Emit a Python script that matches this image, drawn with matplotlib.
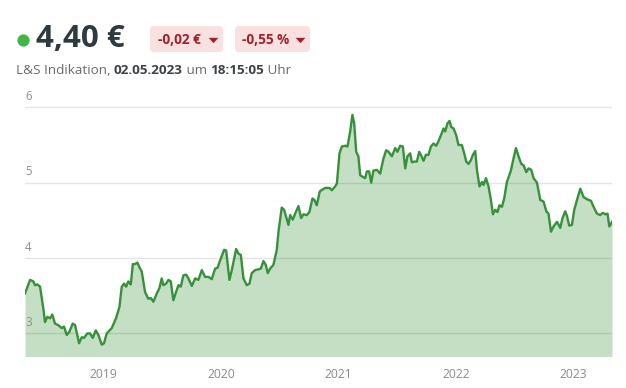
import numpy as np
import matplotlib
matplotlib.use("Agg")
import matplotlib.pyplot as plt
from matplotlib.lines import Line2D
from matplotlib.patches import FancyBboxPatch
from matplotlib.transforms import Affine2D, blended_transform_factory

# price series (decimal year, EUR)
years = [
    2018.334, 2018.377, 2018.405, 2018.419, 2018.439, 2018.462, 2018.490, 2018.504, 2018.524, 2018.547,
    2018.566, 2018.589, 2018.617, 2018.646, 2018.666, 2018.689, 2018.711, 2018.740, 2018.760, 2018.794,
    2018.817, 2018.836, 2018.864, 2018.887, 2018.910, 2018.936, 2018.958, 2018.987, 2019.006, 2019.029,
    2019.072, 2019.108, 2019.137, 2019.157, 2019.177, 2019.194, 2019.213, 2019.234, 2019.251, 2019.270,
    2019.290, 2019.307, 2019.327, 2019.355, 2019.383, 2019.404, 2019.426, 2019.455, 2019.477, 2019.497,
    2019.511, 2019.534, 2019.554, 2019.574, 2019.596, 2019.619, 2019.639, 2019.659, 2019.681, 2019.704,
    2019.724, 2019.753, 2019.781, 2019.809, 2019.838, 2019.866, 2019.894, 2019.923, 2019.951, 2019.971,
    2019.994, 2020.028, 2020.045, 2020.073, 2020.093, 2020.130, 2020.149, 2020.170, 2020.192, 2020.221,
    2020.243, 2020.263, 2020.291, 2020.319, 2020.340, 2020.362, 2020.382, 2020.399, 2020.419, 2020.447,
    2020.476, 2020.490, 2020.518, 2020.538, 2020.555, 2020.575, 2020.589, 2020.612, 2020.632, 2020.660,
    2020.683, 2020.702, 2020.731, 2020.753, 2020.779, 2020.796, 2020.816, 2020.839, 2020.845, 2020.887,
    2020.924, 2020.944, 2020.972, 2020.987, 2021.009, 2021.029, 2021.057, 2021.077, 2021.100, 2021.119,
    2021.134, 2021.151, 2021.170, 2021.185, 2021.204, 2021.227, 2021.242, 2021.261, 2021.279, 2021.298,
    2021.327, 2021.355, 2021.383, 2021.406, 2021.426, 2021.455, 2021.483, 2021.502, 2021.525, 2021.548,
    2021.568, 2021.587, 2021.610, 2021.625, 2021.644, 2021.667, 2021.687, 2021.701, 2021.724, 2021.744,
    2021.766, 2021.787, 2021.809, 2021.832, 2021.851, 2021.872, 2021.894, 2021.908, 2021.928, 2021.945,
    2021.959, 2021.979, 2022.002, 2022.021, 2022.050, 2022.070, 2022.087, 2022.107, 2022.127, 2022.144,
    2022.164, 2022.178, 2022.200, 2022.221, 2022.234, 2022.255, 2022.277, 2022.297, 2022.314, 2022.334,
    2022.353, 2022.370, 2022.391, 2022.410, 2022.433, 2022.467, 2022.489, 2022.510, 2022.532, 2022.555,
    2022.575, 2022.598, 2022.617, 2022.640, 2022.660, 2022.689, 2022.717, 2022.745, 2022.768, 2022.787,
    2022.808, 2022.830, 2022.859, 2022.887, 2022.906, 2022.929, 2022.944, 2022.963, 2022.986, 2023.006,
    2023.029, 2023.057, 2023.085, 2023.114, 2023.148, 2023.170, 2023.199, 2023.227, 2023.250, 2023.270,
    2023.289, 2023.304, 2023.318, 2023.327,
]
prices = [
    3.53, 3.71, 3.69, 3.64, 3.65, 3.62, 3.33, 3.15, 3.22, 3.20,
    3.25, 3.13, 3.11, 3.07, 3.09, 2.98, 3.02, 3.13, 3.11, 2.87,
    2.95, 2.94, 3.00, 3.00, 2.94, 3.04, 2.98, 2.85, 2.87, 3.00,
    3.07, 3.20, 3.35, 3.62, 3.66, 3.62, 3.69, 3.65, 3.92, 3.92,
    3.94, 3.88, 3.82, 3.55, 3.46, 3.47, 3.42, 3.53, 3.60, 3.73,
    3.64, 3.66, 3.71, 3.69, 3.44, 3.55, 3.64, 3.62, 3.77, 3.78,
    3.73, 3.63, 3.73, 3.71, 3.84, 3.75, 3.75, 3.72, 3.86, 3.87,
    3.97, 4.11, 4.10, 3.71, 3.84, 4.12, 4.06, 4.04, 3.73, 3.64,
    3.66, 3.80, 3.84, 3.85, 3.86, 3.96, 3.91, 3.80, 3.86, 3.91,
    4.11, 4.35, 4.67, 4.64, 4.55, 4.44, 4.57, 4.51, 4.59, 4.69,
    4.53, 4.58, 4.57, 4.61, 4.79, 4.77, 4.70, 4.87, 4.89, 4.93,
    4.93, 4.90, 4.95, 4.99, 5.39, 5.48, 5.49, 5.48, 5.68, 5.90,
    5.79, 5.41, 5.35, 5.10, 5.08, 5.06, 5.15, 5.15, 5.00, 5.16,
    5.17, 5.12, 5.32, 5.43, 5.41, 5.35, 5.46, 5.41, 5.49, 5.48,
    5.19, 5.35, 5.39, 5.27, 5.28, 5.28, 5.41, 5.37, 5.29, 5.37,
    5.37, 5.48, 5.52, 5.49, 5.55, 5.63, 5.72, 5.68, 5.79, 5.82,
    5.74, 5.72, 5.63, 5.50, 5.50, 5.39, 5.28, 5.25, 5.30, 5.37,
    5.42, 5.17, 4.95, 5.01, 4.97, 5.06, 4.95, 4.77, 4.58, 4.64,
    4.61, 4.70, 4.68, 4.79, 5.01, 5.16, 5.32, 5.46, 5.35, 5.25,
    5.23, 5.14, 5.19, 5.17, 5.06, 5.00, 4.77, 4.75, 4.62, 4.59,
    4.35, 4.42, 4.48, 4.40, 4.53, 4.62, 4.56, 4.43, 4.44, 4.64,
    4.77, 4.92, 4.81, 4.78, 4.76, 4.68, 4.59, 4.57, 4.60, 4.58,
    4.59, 4.42, 4.45, 4.48,
]
year_ticks = [2019, 2020, 2021, 2022, 2023]
price_ticks = [3, 4, 5, 6]

price_text = "4,40 €"
badge_labels = ["-0,02 €", "-0,55 %"]
subtitle_parts = [("L&S Indikation, ", "normal"), ("02.05.2023", "bold"),
                  (" um ", "normal"), ("18:15:05", "bold"), (" Uhr", "normal")]

W, H = 626, 388
FONT = ["Open Sans", "DejaVu Sans"]

fig = plt.figure(figsize=(W / 100, H / 100), dpi=100)
fig.patch.set_facecolor("white")
# pixel coordinates, origin top-left
px = Affine2D().scale(1 / W, -1 / H).translate(0, 1) + fig.transFigure

# header
fig.add_artist(Line2D([22.5], [39.5], marker="o", ms=8.8, color="#44b649", mec="none", transform=px))
fig.text(36, 39, price_text, fontsize=22.5, fontweight="bold", color="#2d3a40",
         family=FONT, va="center", ha="left", transform=px)

caret = [(-1, 0.55), (1, 0.55), (0, -0.55)]
badge_boxes = [(150, 223), (235, 310)]
for (x0, x1), label in zip(badge_boxes, badge_labels):
    fig.add_artist(FancyBboxPatch((x0, 26), x1 - x0, 26, boxstyle="round,pad=0,rounding_size=4",
                                  fc="#f9e1e1", ec="none", transform=px))
    fig.text(x0 + 7.5, 39.5, label, fontsize=9.8, fontweight="bold", color="#a3202a",
             family=FONT, va="center", ha="left", transform=px)
    fig.add_artist(Line2D([x1 - 10.5], [40], marker=caret, ms=7, color="#a3202a", mec="none",
                          transform=px))

# subtitle with mixed weights
fig.canvas.draw()
renderer = fig.canvas.get_renderer()
x_cur = 16
for txt, weight in subtitle_parts:
    t = fig.text(x_cur, 71, txt, fontsize=9.7, fontweight=weight,
                 color="#3c4246" if weight == "bold" else "#666b6e",
                 family=FONT, va="center", ha="left", transform=px)
    x_cur += t.get_window_extent(renderer).width

# chart
ax = fig.add_axes([25 / W, 1 - 356 / H, (612 - 25) / W, (356 - 90) / H])
ax.fill_between(years, prices, 2.0, color="#c4dfc4", lw=0, zorder=1)
ax.plot(years, prices, color="#37913a", lw=1.7, zorder=3, solid_joinstyle="round")

ax.set_ylim(2.70, 6.23)
ax.set_xlim(years[0], years[-1])
for v in price_ticks:
    ax.axhline(v, color="black", alpha=0.1, lw=1, zorder=2)
trans = blended_transform_factory(ax.transAxes, ax.transData)
for v in price_ticks:
    ax.text(0.0, v + 0.06, str(v), transform=trans, fontsize=8.3, color="#8f8f8f",
            family=FONT, ha="left", va="bottom")

ax.set_yticks([])
ax.set_xticks(year_ticks)
ax.set_xticklabels([str(y) for y in year_ticks], fontsize=8.7, color="#8a8a8a", family=FONT)
ax.tick_params(axis="x", length=0, pad=9)
for s in ax.spines.values():
    s.set_visible(False)
ax.set_facecolor("white")

fig.savefig("out.png", dpi=100)
